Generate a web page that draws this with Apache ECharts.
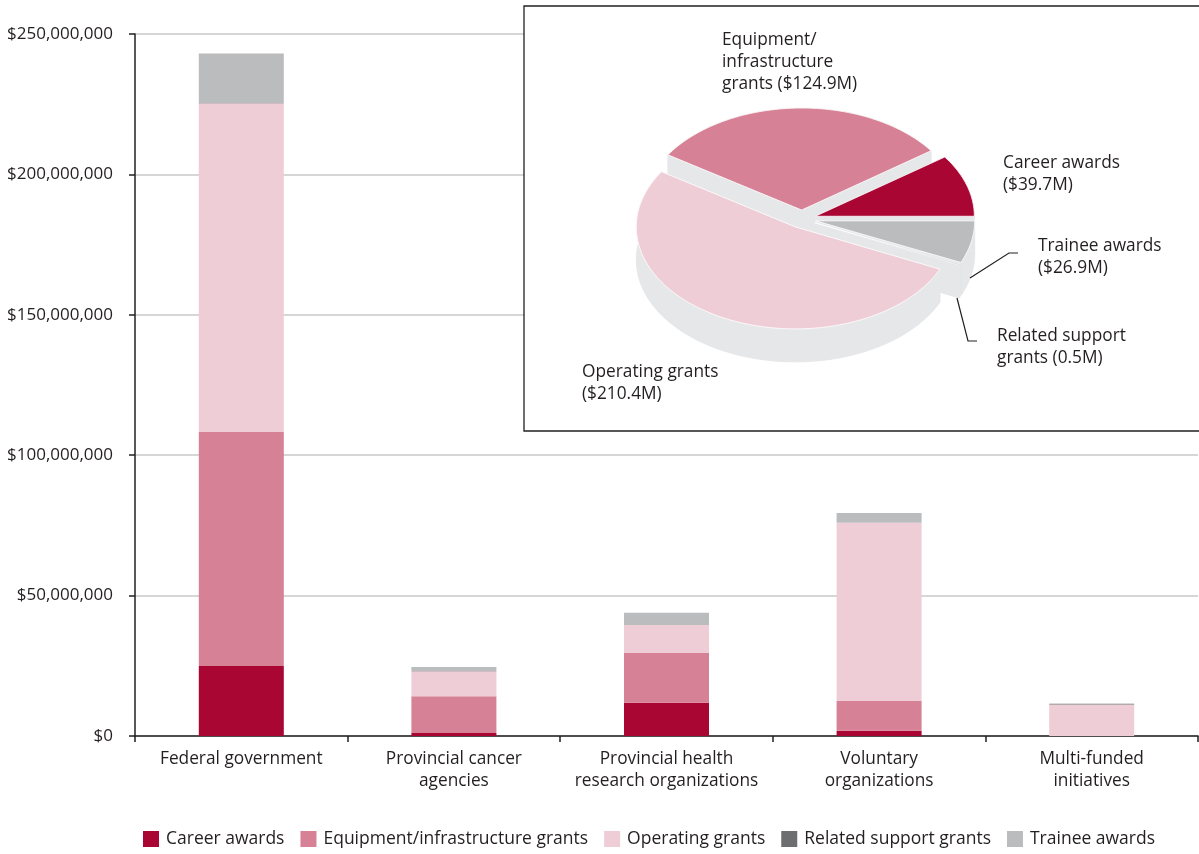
<!DOCTYPE html>
<html>
<head>
<meta charset="utf-8">
<script src="https://cdn.jsdelivr.net/npm/echarts@6/dist/echarts.min.js"></script>
<style>
html,body{margin:0;padding:0;background:#fff;}
#chart{width:1199px;height:854px;}
</style>
</head>
<body>
<div id="chart"></div>
<script>
// ---- data ----
const categories = ['Federal government', 'Provincial cancer\nagencies', 'Provincial health\nresearch organizations', 'Voluntary\norganizations', 'Multi-funded\ninitiatives'];
const seriesNames = ['Career awards', 'Equipment/infrastructure grants', 'Operating grants', 'Related support grants', 'Trainee awards'];
// values in millions of dollars
const careerAwards    = [24.9, 1.1, 11.8, 1.9, 0];
const equipmentGrants = [83.4, 13.1, 17.8, 10.6, 0];
const operatingGrants = [117.0, 8.9, 9.9, 63.4, 11.2];
const relatedSupport  = [0.1, 0.05, 0.05, 0.05, 0.25];
const traineeAwards   = [17.7, 1.4, 4.3, 3.5, 0];
const yTicks = [0, 50, 100, 150, 200, 250];
// inset pie totals (millions)
const pieValues = [39.7, 124.9, 210.4, 0.5, 26.9];
const pieLabels = ['Career awards\n($39.7M)', 'Equipment/\ninfrastructure\ngrants ($124.9M)', 'Operating grants\n($210.4M)', 'Related support\ngrants (0.5M)', 'Trainee awards\n($26.9M)'];

// ---- styling ----
const colors = ['#a90634', '#d68196', '#eecdd6', '#6d6e70', '#bbbcbe'];
const sideColor = '#e6e7e9';
const FONT = '"Open Sans"';
const TEXT = '#231f20';

// pie geometry (pixels)
const CX = 802, CY = 219, RX = 159, RY = 102, DEPTH = 33, EXPLODE = 14;

const chart = echarts.init(document.getElementById('chart'), null, {renderer: 'canvas'});

const barData = [careerAwards, equipmentGrants, operatingGrants, relatedSupport, traineeAwards];

const barSeries = seriesNames.map((n, i) => ({
  name: n,
  type: 'bar',
  stack: 'total',
  barWidth: 85,
  itemStyle: {color: colors[i]},
  emphasis: {disabled: true},
  data: barData[i]
}));

const pieTotal = pieValues.reduce((a, b) => a + b, 0);
const pieStarts = [];
{ let acc = 0; pieValues.forEach(v => { pieStarts.push(acc / pieTotal * Math.PI * 2); acc += v; }); }

function ept(cx, cy, t) { return [cx + RX * Math.cos(t), cy - RY * Math.sin(t)]; }

function renderSlice(params, api) {
  const i = params.dataIndex;
  const a = pieStarts[i];
  const b = a + pieValues[i] / pieTotal * Math.PI * 2;
  const mid = (a + b) / 2;
  const cx = CX + EXPLODE * Math.cos(mid);
  const cy = CY - EXPLODE * Math.sin(mid) * RY / RX;
  const n = Math.max(2, Math.ceil((b - a) / (Math.PI / 120)));
  const arc = [];
  for (let k = 0; k <= n; k++) arc.push(ept(cx, cy, a + (b - a) * k / n));
  const down = p => [p[0], p[1] + DEPTH];
  const top = [[cx, cy]].concat(arc);
  const bottom = top.map(down);
  const wall = arc.concat(arc.slice().reverse().map(down));
  const r1 = [[cx, cy], arc[0], down(arc[0]), [cx, cy + DEPTH]];
  const r2 = [[cx, cy], arc[n], down(arc[n]), [cx, cy + DEPTH]];
  const sideStyle = {fill: sideColor, stroke: sideColor, lineWidth: 0.5};
  return {
    type: 'group',
    children: [
      {type: 'polygon', z2: 1, shape: {points: bottom}, style: sideStyle},
      {type: 'polygon', z2: 2, shape: {points: wall}, style: sideStyle},
      {type: 'polygon', z2: 2, shape: {points: r1}, style: sideStyle},
      {type: 'polygon', z2: 2, shape: {points: r2}, style: sideStyle},
      {type: 'polygon', z2: 10, shape: {points: top}, style: {fill: colors[i], stroke: '#ffffff', lineWidth: 0.8}}
    ]
  };
}

const labelPos = [[1003, 152], [722, 29], [582, 361], [997, 325], [1038, 235]];

const graphics = [
  {type: 'rect', z: 5, shape: {x: 524, y: 6, width: 700, height: 425}, style: {fill: '#fff', stroke: '#231f20', lineWidth: 1.3}}
];
pieLabels.forEach((t, i) => {
  graphics.push({type: 'text', z: 12, x: labelPos[i][0], y: labelPos[i][1],
    style: {text: t, font: '17.3px ' + FONT, fill: TEXT, lineHeight: 22, textVerticalAlign: 'top'}});
});
graphics.push({type: 'polyline', z: 12, shape: {points: [[1018, 253], [1009, 253], [970, 278]]}, style: {stroke: '#231f20', lineWidth: 1.2, fill: null}});
graphics.push({type: 'polyline', z: 12, shape: {points: [[977, 341], [968, 341], [957, 298]]}, style: {stroke: '#231f20', lineWidth: 1.2, fill: null}});

const option = {
  animation: false,
  backgroundColor: '#fff',
  textStyle: {fontFamily: FONT, color: TEXT},
  grid: {left: 135, right: 1, top: 34, bottom: 118, containLabel: false},
  legend: {
    data: seriesNames,
    left: 143, top: 830, padding: 0,
    icon: 'rect', itemWidth: 16, itemHeight: 16, itemGap: 16,
    textStyle: {fontFamily: FONT, fontSize: 17.5, color: TEXT, padding: [0, 0, 0, 2]},
    selectedMode: false
  },
  xAxis: {
    type: 'category',
    data: categories,
    axisLine: {lineStyle: {color: '#231f20', width: 1.5}},
    axisTick: {show: true, length: 6, alignWithLabel: false, lineStyle: {color: '#231f20', width: 1.5}},
    axisLabel: {fontFamily: FONT, fontSize: 17.3, color: TEXT, lineHeight: 22, margin: 12, interval: 0},
    splitLine: {show: false}
  },
  yAxis: {
    type: 'value',
    min: yTicks[0], max: yTicks[yTicks.length - 1], interval: yTicks[1] - yTicks[0],
    axisLine: {show: true, lineStyle: {color: '#231f20', width: 1.5}},
    axisTick: {show: true, length: 6, lineStyle: {color: '#231f20', width: 1.5}},
    axisLabel: {fontFamily: FONT, fontSize: 17, color: TEXT, margin: 22,
      formatter: v => '$' + Math.round(v * 1e6).toLocaleString('en-US')},
    splitLine: {show: true, lineStyle: {color: '#c8c8c8', width: 1.5}}
  },
  graphic: graphics,
  series: barSeries.concat([{
    name: 'pie3d',
    type: 'custom',
    coordinateSystem: 'none',
    z: 10,
    silent: true,
    renderItem: renderSlice,
    data: pieValues
  }])
};
chart.setOption(option);
</script>
</body>
</html>
